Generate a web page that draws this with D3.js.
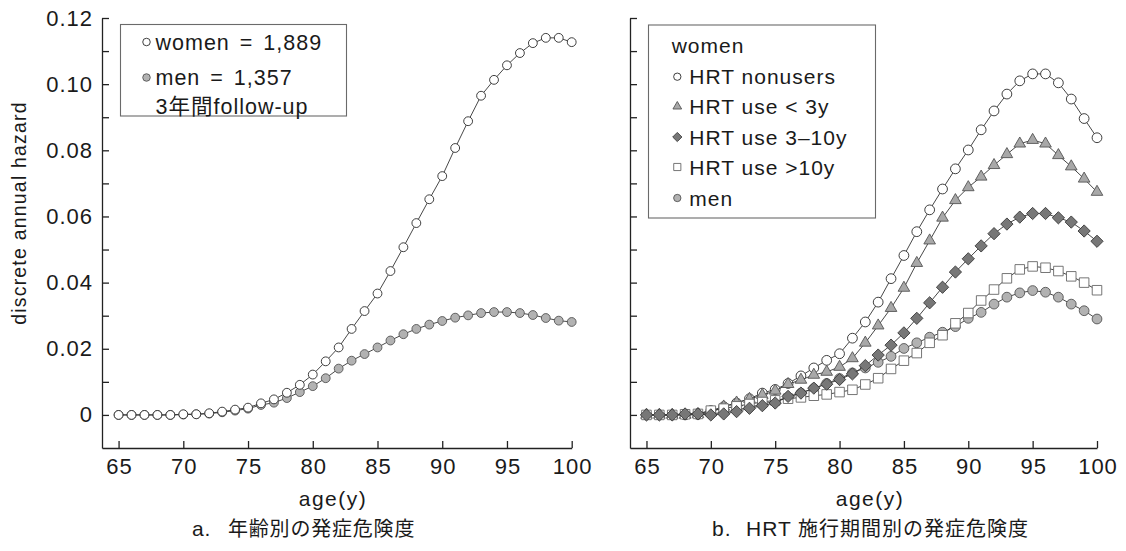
<!DOCTYPE html>
<html><head><meta charset="utf-8">
<script src="https://cdn.jsdelivr.net/npm/d3@7"></script>
<style>
html,body{margin:0;padding:0;background:#fff;}
svg{display:block;}
text{fill:#1a1a1a;}
</style></head>
<body>
<svg id="chart" width="1126" height="551"></svg>
<script>
// ---------- data ----------
const ages = [65,66,67,68,69,70,71,72,73,74,75,76,77,78,79,80,81,82,83,84,85,86,87,88,89,90,91,92,93,94,95,96,97,98,99,100];
const xTickValues = [65,70,75,80,85,90,95,100];
const yTickValues = [0,0.01,0.02,0.03,0.04,0.05,0.06,0.07,0.08,0.09,0.10,0.11,0.12];
const yTickLabels = {"0":"0","0.02":"0.02","0.04":"0.04","0.06":"0.06","0.08":"0.08","0.1":"0.10","0.12":"0.12"};

// panel a
const womenA = [0,0,0,0,0,0.0002,0.0002,0.0005,0.001,0.0016,0.0022,0.0035,0.0047,0.0067,0.0091,0.0122,0.0162,0.0204,0.026,0.0314,0.0367,0.0435,0.0507,0.058,0.0652,0.0722,0.0807,0.0888,0.0965,0.1013,0.1057,0.1094,0.1124,0.114,0.114,0.1127];
const menA = [0,0,0,0,0,0.0001,0.0002,0.0004,0.0008,0.0013,0.0019,0.003,0.0037,0.0051,0.0069,0.0087,0.0111,0.014,0.0164,0.0184,0.0204,0.0225,0.0244,0.026,0.0273,0.0284,0.0294,0.0301,0.0308,0.0311,0.0311,0.0308,0.0302,0.0293,0.0285,0.0281];

// panel b
const nonusersB = [0,0,0,0.0002,0.0004,0.0013,0.0025,0.0036,0.0049,0.0066,0.0077,0.0095,0.0118,0.0142,0.0165,0.0185,0.0232,0.0281,0.0341,0.0412,0.0482,0.0554,0.062,0.0683,0.0744,0.0801,0.0862,0.0919,0.097,0.101,0.1031,0.1031,0.1004,0.0955,0.0896,0.0838];
const use3B = [0,0,0,0,0.0002,0.0008,0.0025,0.0037,0.0048,0.006,0.0073,0.0093,0.0106,0.0121,0.013,0.0145,0.0171,0.0218,0.027,0.0323,0.0384,0.0459,0.0527,0.0596,0.0649,0.0688,0.072,0.0755,0.0788,0.082,0.0831,0.082,0.0785,0.0751,0.0714,0.0674];
const use3to10B = [0,0,0,0.0003,0.0003,0,0.0003,0.001,0.002,0.0028,0.0036,0.0056,0.0066,0.0081,0.0093,0.0107,0.0124,0.0149,0.0181,0.0211,0.0248,0.0292,0.0339,0.0386,0.0432,0.0472,0.0511,0.0548,0.0577,0.0598,0.0609,0.0609,0.0596,0.0583,0.0556,0.0525];
const use10B = [0,0,0,0.0002,0.0003,0.0013,0.0019,0.0026,0.0033,0.0039,0.0044,0.0049,0.0053,0.0058,0.0062,0.0069,0.0076,0.0092,0.0111,0.0139,0.0164,0.0187,0.0218,0.0241,0.0277,0.0308,0.0346,0.0379,0.0413,0.044,0.0449,0.0445,0.0435,0.0419,0.04,0.0377];
const menB = [0,0,0,0,0.0001,0.0003,0.0008,0.0015,0.0023,0.0032,0.0042,0.0053,0.0066,0.008,0.0095,0.011,0.0127,0.0142,0.0159,0.0177,0.0201,0.0218,0.0235,0.025,0.0267,0.0292,0.031,0.0335,0.0356,0.0369,0.0376,0.0371,0.0356,0.0335,0.0315,0.029];

const legendA = ["women = 1,889", "men = 1,357", "3年間follow-up"];
const legendBTitle = "women";
const legendB = ["HRT nonusers", "HRT use < 3y", "HRT use 3\u201310y", "HRT use >10y", "men"];
const yTitle = "discrete annual hazard";
const xTitle = "age(y)";
const captionA = ["a.", "年齢別の発症危険度"];
const captionB = ["b.", "HRT", "施行期間別の発症危険度"];

// ---------- styles ----------
const LATIN = "'Liberation Sans', Arial, 'Noto Sans CJK JP', sans-serif";
const CJK = "'Noto Sans CJK JP', sans-serif";
const LINE = "#333";
const styles = {
  openCircle: {shape: "circle", fill: "#fff", stroke: "#2a2a2a"},
  grayCircle: {shape: "circle", fill: "#b2b2b2", stroke: "#555"},
  triangle: {shape: "triangle", fill: "#a8a8a8", stroke: "#555"},
  diamond: {shape: "diamond", fill: "#777", stroke: "#3a3a3a"},
  square: {shape: "square", fill: "#fff", stroke: "#666"}
};

const svg = d3.select("#chart");
const yScale = d3.scaleLinear().domain([-0.01, 0.12]).range([448, 18]);

function markerPath(shape, s) {
  switch (shape) {
    case "circle": return d3.symbol(d3.symbolCircle, Math.PI * 4.7 * 4.7 * s * s)();
    case "triangle": return d3.symbol(d3.symbolTriangle, 54 * s * s)();
    case "diamond": return `M0,${-5.9*s}L${5.9*s},0L0,${5.9*s}L${-5.9*s},0Z`;
    case "square": return d3.symbol(d3.symbolSquare, 84 * s * s)();
  }
}

function drawPanel(g, x, series, showLabels, mscale) {
  const yAxis = d3.axisLeft(yScale).tickValues(yTickValues).tickSize(-7).tickSizeOuter(0).tickPadding(9)
    .tickFormat(d => showLabels ? (yTickLabels[String(+d.toFixed(2))] || "") : "");
  const ya = g.append("g").attr("transform", `translate(${x.range()[0]},0)`).call(yAxis);
  const xAxis = d3.axisBottom(x).tickValues(xTickValues).tickSize(-7).tickSizeOuter(0).tickPadding(10);
  const xa = g.append("g").attr("transform", `translate(0,${yScale.range()[0]})`).call(xAxis);
  [ya, xa].forEach(a => {
    a.selectAll("path.domain").attr("stroke", "#222").attr("stroke-width", 1.3);
    a.selectAll(".tick line").attr("stroke", "#222").attr("stroke-width", 1.3);
    a.selectAll(".tick text").attr("font-family", LATIN).attr("font-size", 22)
      .attr("letter-spacing", "1px").attr("fill", "#1a1a1a");
  });
  xa.selectAll(".tick text").attr("dx", "0.5px");

  const line = d3.line().x((d, i) => x(ages[i])).y(d => yScale(d));
  series.forEach(s => {
    const st = styles[s.style];
    g.append("path").datum(s.values).attr("d", line).attr("fill", "none")
      .attr("stroke", LINE).attr("stroke-width", 0.9);
    g.append("g").selectAll("path").data(s.values).join("path")
      .attr("d", markerPath(st.shape, mscale))
      .attr("transform", (d, i) => `translate(${x(ages[i])},${yScale(d)})`)
      .attr("fill", st.fill).attr("stroke", st.stroke).attr("stroke-width", 0.9);
  });
}

// ---------- panel a ----------
const xA = d3.scaleLinear().domain([63.72, 100]).range([102, 571.7]);
const gA = svg.append("g");
drawPanel(gA, xA, [
  {values: menA, style: "grayCircle"},
  {values: womenA, style: "openCircle"}
], true, 0.94);

gA.append("rect").attr("x", 120.5).attr("y", 24.5).attr("width", 226).attr("height", 91.5)
  .attr("fill", "#fff").attr("stroke", "#6a6a6a").attr("stroke-width", 1.1);
const legA = [
  {y: 42, text: legendA[0], style: "openCircle"},
  {y: 77.5, text: legendA[1], style: "grayCircle"},
  {y: 106.5, text: legendA[2], style: null}
];
legA.forEach(l => {
  if (l.style) {
    const st = styles[l.style];
    gA.append("path").attr("d", markerPath(st.shape, 0.8))
      .attr("transform", `translate(146.5,${l.y})`).attr("fill", st.fill)
      .attr("stroke", st.stroke).attr("stroke-width", 0.9);
  }
  gA.append("text").attr("x", 155.5).attr("y", l.y).attr("dy", "0.36em")
    .attr("font-family", LATIN).attr("font-size", 21.5).attr("letter-spacing", "1px")
    .attr("word-spacing", "3px").text(l.text);
});

// ---------- panel b ----------
const xB = d3.scaleLinear().domain([63.72, 100]).range([630, 1097]);
const gB = svg.append("g");
drawPanel(gB, xB, [
  {values: menB, style: "grayCircle"},
  {values: nonusersB, style: "openCircle"},
  {values: use3B, style: "triangle"},
  {values: use10B, style: "square"},
  {values: use3to10B, style: "diamond"}
], false, 1.04);

gB.append("rect").attr("x", 648.5).attr("y", 25).attr("width", 227).attr("height", 193)
  .attr("fill", "#fff").attr("stroke", "#6a6a6a").attr("stroke-width", 1.1);
gB.append("text").attr("x", 671.7).attr("y", 45).attr("dy", "0.36em")
  .attr("font-family", LATIN).attr("font-size", 21).attr("letter-spacing", "1px").text(legendBTitle);
const legBStyles = ["openCircle", "triangle", "diamond", "square", "grayCircle"];
const legBY = [76.7, 106.5, 137, 167, 198];
legendB.forEach((t, i) => {
  const st = styles[legBStyles[i]];
  gB.append("path").attr("d", markerPath(st.shape, 0.78))
    .attr("transform", `translate(677.3,${legBY[i]})`).attr("fill", st.fill)
    .attr("stroke", st.stroke).attr("stroke-width", 0.9);
  gB.append("text").attr("x", 689.3).attr("y", legBY[i]).attr("dy", "0.36em")
    .attr("font-family", LATIN).attr("font-size", 21).attr("letter-spacing", "1px").text(t);
});

// ---------- titles ----------
svg.append("text").attr("transform", "translate(19,213) rotate(-90)").attr("text-anchor", "middle")
  .attr("dy", "0.36em").attr("font-family", LATIN).attr("font-size", 19.5).attr("letter-spacing", "1.2px").text(yTitle);

[333, 870].forEach(cx => {
  svg.append("text").attr("x", cx).attr("y", 498).attr("dy", "0.36em").attr("text-anchor", "middle")
    .attr("font-family", LATIN).attr("font-size", 21).attr("letter-spacing", "1.5px").text(xTitle);
});

function caption(parts, xs, ls) {
  const t = svg.append("text").attr("y", 529).attr("dy", "0.36em")
    .attr("font-family", CJK).attr("font-size", 20).attr("letter-spacing", ls + "px");
  parts.forEach((p, i) => {
    const sp = t.append("tspan").attr("x", xs[i]).text(p);
    if (/^[A-Za-z.]+$/.test(p)) sp.attr("font-family", LATIN).attr("font-size", 21);
  });
}
caption(captionA, [192, 228], 0.8);
caption(captionB, [712, 746, 798], 1.0);
</script>
</body></html>
